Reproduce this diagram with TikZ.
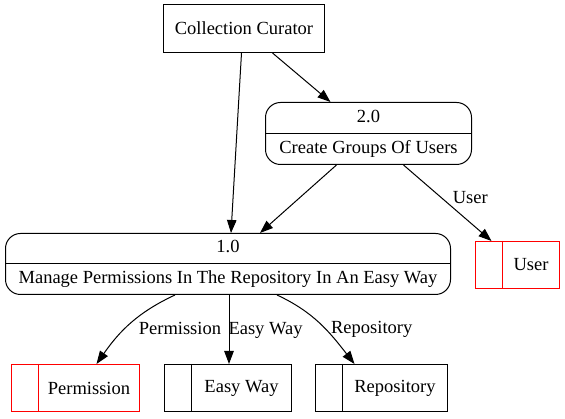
\documentclass[tikz,border=0pt]{standalone}
\usepackage{fontspec}
\setmainfont{Liberation Serif}
\usetikzlibrary{arrows.meta,calc}
\tikzstyle{ent}=[rectangle, draw=black, line width=1pt, minimum height=48pt, inner sep=0pt, anchor=center]
\tikzstyle{proc}=[rectangle, rounded corners=15pt, draw=black, line width=1pt, align=center, inner sep=0pt, font=\fontsize{18.5}{31}\selectfont]
\tikzstyle{store}=[rectangle, line width=1pt, minimum height=47pt, inner sep=0pt]
\tikzstyle{flow}=[-{Triangle[length=13pt,width=9.5pt]}, line width=1pt]
\tikzstyle{lbl}=[inner sep=1pt, font=\fontsize{18.5}{20}\selectfont]
\newcommand{\datastore}[5]
{
  \node[store, draw=#5, minimum width=#4](#1) at (#2){\hspace*{27pt}#3};
  \draw[draw=#5, line width=1pt] ([xshift=27pt]#1.north west) -- ([xshift=27pt]#1.south west);
}

\begin{document}
\begin{tikzpicture}[x=1pt, y=1pt, font=\fontsize{18.5}{20}\selectfont]
	\useasboundingbox (0,0) rectangle (565,419);

	\node[ent, minimum width=161pt](curator) at (244,390.5){Collection Curator};

	\node[proc, minimum width=206pt, minimum height=62pt](groups) at (368.5,285.5){2.0\\Create Groups Of Users};
	\draw[line width=1pt] (groups.west) -- (groups.east);
	\node[proc, minimum width=445pt, minimum height=61pt](manage) at (228,155){1.0\\Manage Permissions In The Repository In An Easy Way};
	\draw[line width=1pt] (manage.west) -- (manage.east);

	\datastore{user}{517.5,154}{User}{84pt}{red}
	\datastore{permission}{75.5,31}{Permission}{128pt}{red}
	\datastore{easyway}{228,31}{Easy Way}{127pt}{black}
	\datastore{repository}{381.5,31}{Repository}{132pt}{black}

	% flows
	\draw[flow] ([xshift=-2.5pt]curator.south) -- ([xshift=3pt]manage.north);
	\draw[flow] ([xshift=28.5pt]curator.south) -- ([xshift=-38pt]groups.north);
	\draw[flow] ([xshift=-32pt]groups.south) -- ([xshift=32pt]manage.north);
	\draw[flow] ([xshift=35pt]groups.south) -- ([xshift=-26pt]user.north) node[lbl, pos=0.43, anchor=west, xshift=10pt]{User};
	\draw[flow] ([xshift=-53pt]manage.south) to[out=205, in=55] node[lbl, pos=0.45, anchor=west, xshift=3pt, yshift=-8pt]{Permission} ([xshift=21pt]permission.north);
	\draw[flow] ([xshift=1pt]manage.south) -- ([xshift=1pt]easyway.north) node[lbl, pos=0.47, anchor=west, xshift=-2pt, yshift=-3pt]{Easy Way};
	\draw[flow] ([xshift=49pt]manage.south) to[out=-25, in=128] node[lbl, pos=0.45, anchor=west, xshift=13pt, yshift=-9pt]{Repository} ([xshift=-27pt]repository.north);
\end{tikzpicture}
\end{document}
